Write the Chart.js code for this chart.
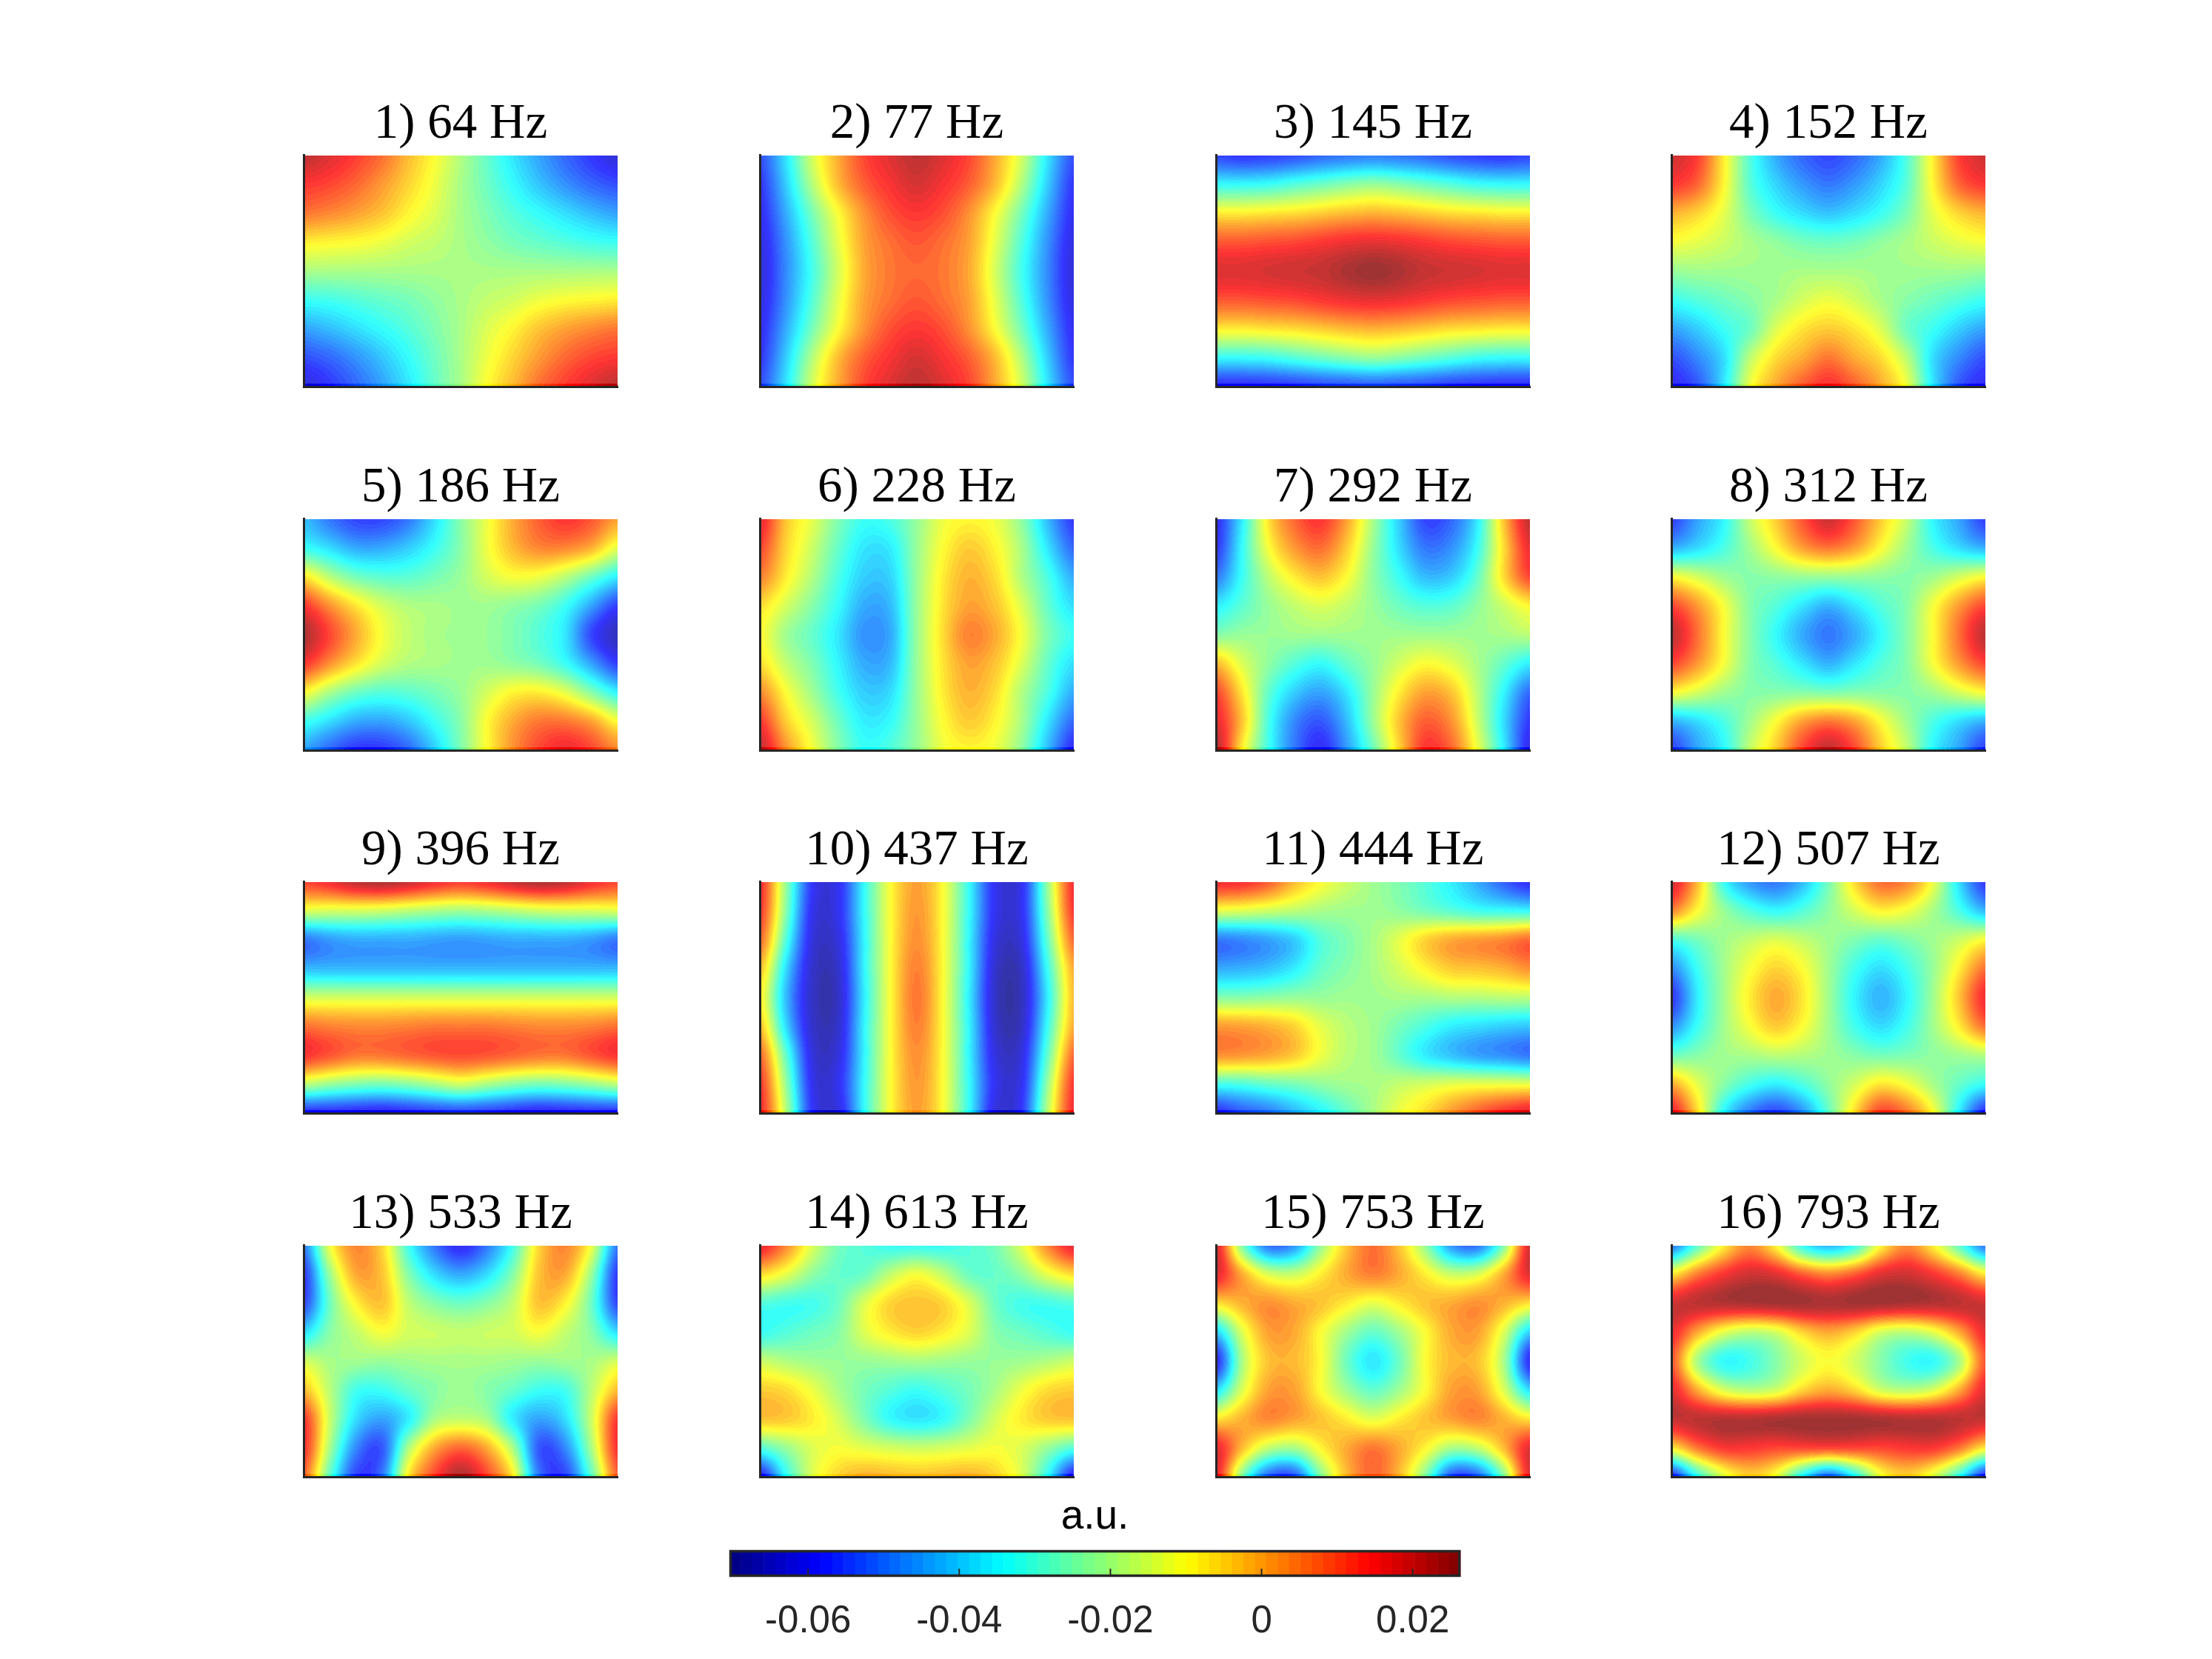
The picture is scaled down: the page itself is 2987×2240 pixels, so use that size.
<!DOCTYPE html>
<html>
<head>
<meta charset="utf-8">
<title>Mode shapes</title>
<script src="https://cdn.jsdelivr.net/npm/chart.js@4"></script>
<style>
  body { margin: 0; background: #fff; width: 2987px; height: 2240px; position: relative; overflow: hidden; }
  canvas { position: absolute; }
</style>
</head>
<body>
<script>
const frequencies = [64, 77, 145, 152, 186, 228, 292, 312, 396, 437, 444, 507, 533, 613, 753, 793];
const colorbarTicks = [-0.06, -0.04, -0.02, 0, 0.02];
const colorbarLabels = ['-0.06', '-0.04', '-0.02', '0', '0.02'];
const colorMin = -0.0704;
const colorMax = 0.0263;
const colorLevels = 64;

// Values on a 13 x 9 sample grid, in thousandths of a.u., top row first
const mode1 = [
  [22,18,13,7,-2,-10,-19,-28,-37,-45,-52,-58,-63],
  [14,12,8,2,-5,-12,-20,-27,-34,-41,-47,-52,-55],
  [6,4,1,-3,-9,-14,-20,-25,-30,-34,-38,-42,-45],
  [-8,-9,-10,-12,-15,-17,-20,-23,-26,-28,-30,-32,-33],
  [-20,-20,-20,-20,-20,-20,-20,-20,-20,-20,-20,-20,-20],
  [-33,-32,-30,-28,-26,-23,-20,-17,-15,-12,-10,-9,-8],
  [-45,-42,-38,-34,-30,-25,-20,-14,-9,-3,1,4,6],
  [-55,-52,-47,-41,-34,-27,-20,-12,-5,2,8,12,14],
  [-63,-58,-52,-45,-37,-28,-20,-10,-2,7,13,18,22]];
const mode2 = [
  [-55,-37,-15,0,12,18,22,18,12,0,-15,-37,-55],
  [-58,-40,-19,-2,9,15,19,15,9,-2,-19,-40,-58],
  [-60,-44,-26,-10,3,11,14,11,3,-10,-26,-44,-60],
  [-62,-47,-30,-13,1,7,10,7,1,-13,-30,-47,-62],
  [-63,-48,-32,-15,0,6,8,6,0,-15,-32,-48,-63],
  [-62,-47,-30,-13,1,7,10,7,1,-13,-30,-47,-62],
  [-60,-44,-26,-10,3,11,14,11,3,-10,-26,-44,-60],
  [-58,-40,-19,-2,9,15,19,15,9,-2,-19,-40,-58],
  [-55,-37,-15,0,12,18,22,18,12,0,-15,-37,-55]];
const mode3 = [
  [-56,-58,-57,-55,-52,-50,-49,-50,-52,-55,-57,-58,-56],
  [-34,-34,-33,-30,-27,-24,-22,-24,-27,-30,-33,-34,-34],
  [-8,-8,-7,-6,-4,-2,-1,-2,-4,-6,-7,-8,-8],
  [10,10,11,12,14,16,17,16,14,12,11,10,10],
  [18,18,19,20,21,24,26,24,21,20,19,18,18],
  [10,10,11,12,14,16,17,16,14,12,11,10,10],
  [-8,-8,-7,-6,-4,-2,-1,-2,-4,-6,-7,-8,-8],
  [-34,-34,-33,-30,-27,-24,-22,-24,-27,-30,-33,-34,-34],
  [-60,-60,-59,-58,-56,-55,-54,-55,-56,-58,-59,-60,-60]];
const mode4 = [
  [20,13,-8,-30,-44,-52,-56,-52,-44,-30,-8,13,20],
  [14,8,-9,-29,-39,-46,-50,-46,-39,-29,-9,8,14],
  [-1,-5,-13,-25,-33,-38,-41,-38,-33,-25,-13,-5,-1],
  [-11,-13,-16,-20,-23,-26,-27,-26,-23,-20,-16,-13,-11],
  [-22,-21,-21,-21,-21,-20,-20,-20,-21,-21,-21,-21,-22],
  [-33,-30,-27,-24,-20,-15,-12,-15,-20,-24,-27,-30,-33],
  [-45,-40,-33,-27,-14,-7,-4,-7,-14,-27,-33,-40,-45],
  [-55,-48,-38,-18,-6,0,6,0,-6,-18,-38,-48,-55],
  [-60,-54,-37,-12,0,9,15,9,0,-12,-37,-54,-60]];
const mode5 = [
  [-42,-50,-56,-56,-50,-38,-24,-12,0,9,14,10,1],
  [-33,-38,-44,-44,-40,-33,-24,-12,-2,4,4,-1,-13],
  [-7,-18,-26,-29,-29,-26,-22,-15,-11,-12,-18,-27,-36],
  [14,3,-7,-15,-19,-20,-21,-21,-23,-26,-33,-45,-57],
  [24,12,0,-11,-17,-20,-21,-22,-25,-30,-37,-56,-66],
  [14,3,-7,-15,-19,-20,-21,-21,-23,-26,-33,-45,-57],
  [-10,-20,-27,-30,-29,-26,-22,-15,-9,-8,-13,-24,-35],
  [-32,-38,-44,-45,-41,-33,-24,-10,0,6,6,1,-10],
  [-45,-52,-58,-58,-52,-40,-25,-10,3,12,17,12,4]];
const mode6 = [
  [18,-3,-13,-25,-33,-31,-22,-12,-9,-12,-23,-42,-58],
  [12,-5,-16,-28,-37,-36,-22,-10,-4,-9,-20,-37,-52],
  [5,-8,-19,-31,-40,-39,-22,-8,-1,-6,-19,-31,-44],
  [-6,-15,-24,-34,-44,-42,-22,-7,1,-3,-14,-28,-38],
  [-10,-21,-28,-37,-47,-44,-22,-6,5,0,-11,-25,-33],
  [-6,-17,-25,-35,-44,-42,-22,-7,1,-3,-14,-28,-38],
  [4,-10,-21,-32,-40,-38,-22,-8,-1,-6,-19,-31,-44],
  [14,-4,-15,-27,-36,-34,-22,-10,-4,-9,-20,-37,-52],
  [22,3,-11,-24,-33,-30,-22,-12,-9,-12,-23,-42,-60]];
const mode7 = [
  [-60,-36,-7,8,14,1,-20,-40,-56,-52,-36,-3,22],
  [-58,-34,-11,2,7,-4,-22,-38,-50,-47,-33,-6,17],
  [-50,-33,-18,-8,-3,-10,-23,-33,-42,-40,-28,-6,12],
  [-36,-29,-22,-17,-14,-17,-22,-27,-30,-29,-23,-16,-9],
  [-24,-22,-22,-21,-21,-21,-21,-21,-21,-21,-21,-20,-18],
  [-2,-14,-23,-30,-34,-28,-22,-15,-10,-13,-20,-28,-36],
  [12,-7,-28,-40,-45,-37,-22,-8,1,-3,-18,-35,-52],
  [18,-3,-31,-48,-54,-42,-22,-3,9,3,-16,-38,-58],
  [24,-8,-32,-50,-60,-46,-27,-5,14,8,-12,-36,-62]];
const mode8 = [
  [-57,-45,-35,-17,-4,10,20,10,-4,-17,-35,-45,-57],
  [-43,-38,-31,-21,-10,1,6,1,-10,-21,-31,-38,-43],
  [-10,-15,-21,-24,-23,-22,-22,-22,-23,-24,-21,-15,-10],
  [12,2,-11,-24,-30,-37,-43,-37,-30,-24,-11,2,12],
  [22,7,-10,-24,-34,-44,-50,-44,-34,-24,-10,7,22],
  [12,2,-11,-24,-30,-37,-43,-37,-30,-24,-11,2,12],
  [-10,-15,-21,-24,-24,-24,-25,-24,-24,-24,-21,-15,-10],
  [-43,-38,-31,-21,-10,1,6,1,-10,-21,-31,-38,-43],
  [-57,-45,-35,-17,-4,12,22,12,-4,-17,-35,-45,-57]];
const mode9 = [
  [12,16,22,24,21,16,13,16,21,24,22,16,12],
  [-14,-15,-15,-16,-18,-20,-21,-20,-18,-16,-15,-15,-14],
  [-50,-46,-44,-44,-44,-45,-46,-45,-44,-44,-44,-46,-50],
  [-42,-42,-42,-42,-42,-42,-42,-42,-42,-42,-42,-42,-42],
  [-15,-15,-15,-15,-15,-15,-15,-15,-15,-15,-15,-15,-15],
  [7,5,4,4,5,6,6,6,5,4,4,5,7],
  [14,10,6,6,8,10,11,10,8,6,6,10,14],
  [-18,-22,-25,-26,-24,-20,-16,-20,-24,-26,-25,-22,-18],
  [-60,-60,-61,-62,-60,-58,-57,-58,-60,-62,-61,-60,-60]];
const mode10 = [
  [16,-22,-58,-60,-34,-10,1,-10,-34,-60,-60,-22,16],
  [14,-24,-60,-60,-34,-10,2,-10,-34,-60,-60,-24,14],
  [8,-30,-62,-62,-35,-10,3,-10,-35,-62,-62,-28,8],
  [-2,-38,-64,-64,-35,-10,5,-10,-35,-64,-65,-33,0],
  [-8,-42,-65,-65,-36,-10,6,-10,-36,-65,-66,-36,-2],
  [-2,-38,-64,-64,-35,-10,5,-10,-35,-64,-65,-33,0],
  [8,-28,-62,-62,-35,-10,3,-10,-35,-62,-62,-28,8],
  [14,-22,-60,-60,-34,-10,2,-10,-34,-60,-60,-22,14],
  [16,-18,-58,-62,-34,-10,1,-10,-34,-62,-58,-18,16]];
const mode11 = [
  [16,15,9,-2,-10,-16,-21,-25,-30,-36,-44,-53,-60],
  [-13,-14,-16,-18,-20,-21,-21,-23,-26,-29,-32,-33,-34],
  [-50,-48,-45,-40,-30,-25,-20,-13,-5,0,2,4,8],
  [-44,-43,-41,-36,-28,-24,-20,-15,-9,-4,-3,-1,3],
  [-24,-24,-23,-22,-22,-21,-21,-20,-20,-19,-19,-18,-18],
  [2,1,-1,-5,-13,-18,-21,-26,-31,-36,-38,-40,-41],
  [3,2,0,-4,-12,-18,-21,-28,-36,-41,-45,-47,-50],
  [-32,-31,-28,-26,-23,-21,-20,-17,-15,-13,-12,-12,-12],
  [-60,-54,-50,-43,-36,-28,-20,-12,-6,2,9,15,19]];
const mode12 = [
  [20,-2,-33,-46,-50,-42,-26,-6,7,4,-12,-38,-58],
  [4,-10,-22,-30,-34,-30,-23,-15,-9,-12,-20,-31,-42],
  [-31,-26,-21,-17,-14,-17,-21,-25,-28,-25,-21,-16,-10],
  [-48,-33,-21,-11,-5,-10,-21,-32,-38,-32,-22,-8,7],
  [-58,-36,-21,-8,0,-7,-21,-35,-43,-35,-21,-3,16],
  [-47,-33,-21,-11,-4,-10,-21,-32,-38,-32,-21,-8,7],
  [-27,-24,-21,-20,-18,-19,-21,-24,-26,-25,-23,-21,-19],
  [0,-13,-24,-32,-36,-31,-23,-15,-7,-11,-20,-28,-34],
  [18,-6,-35,-50,-56,-47,-28,-6,12,6,-10,-36,-60]];
const mode13 = [
  [-50,-12,4,-5,-32,-50,-60,-50,-32,-5,4,-12,-50],
  [-58,-22,0,-3,-24,-38,-44,-38,-24,-3,0,-22,-58],
  [-56,-27,-9,-3,-17,-24,-27,-24,-17,-3,-9,-27,-56],
  [-38,-24,-17,-11,-15,-16,-17,-16,-15,-11,-17,-24,-38],
  [-15,-20,-21,-22,-21,-20,-20,-20,-21,-22,-21,-20,-15],
  [-2,-18,-32,-33,-28,-24,-21,-24,-28,-33,-32,-18,-2],
  [14,-16,-38,-45,-36,-20,-17,-20,-36,-45,-38,-16,14],
  [15,-20,-48,-54,-20,0,8,0,-20,-54,-48,-20,15],
  [8,-28,-56,-50,-8,12,24,12,-8,-50,-56,-28,8]];
const mode14 = [
  [18,4,-14,-26,-30,-33,-33,-33,-30,-26,-14,4,18],
  [-6,-13,-23,-28,-27,-17,-11,-17,-27,-28,-23,-13,-6],
  [-30,-32,-32,-27,-14,-5,-3,-5,-14,-27,-32,-32,-30],
  [-33,-30,-27,-24,-14,-8,-5,-8,-14,-24,-27,-30,-33],
  [-16,-19,-21,-22,-22,-21,-20,-21,-22,-22,-21,-19,-16],
  [-4,-6,-12,-20,-26,-30,-33,-30,-26,-20,-12,-6,-4],
  [-3,-4,-8,-15,-25,-34,-37,-34,-25,-15,-8,-4,-3],
  [-30,-22,-14,-11,-13,-15,-16,-15,-13,-11,-14,-22,-30],
  [-62,-34,-14,-5,-1,-2,-3,-2,-1,-5,-14,-34,-62]];
const mode15 = [
  [20,-24,-50,-46,-22,-3,7,-3,-22,-46,-50,-24,20],
  [18,0,-14,-16,-8,0,5,0,-8,-16,-14,0,18],
  [-7,-1,3,0,-3,-8,-13,-8,-3,0,3,-1,-7],
  [-40,-14,1,0,-10,-21,-28,-21,-10,0,1,-14,-40],
  [-60,-20,-3,-2,-10,-27,-37,-27,-10,-2,-3,-20,-60],
  [-38,-14,1,1,-10,-21,-28,-21,-10,1,1,-14,-38],
  [-7,-1,4,1,-3,-8,-13,-8,-3,1,4,-1,-7],
  [18,-2,-17,-20,-9,0,6,0,-9,-20,-17,-2,18],
  [18,-24,-52,-54,-24,-2,8,-2,-24,-54,-52,-24,18]];
const mode16 = [
  [-50,-28,-8,4,-9,-33,-42,-33,-9,4,-8,-28,-50],
  [-7,6,15,20,18,10,5,10,18,20,15,6,-7],
  [20,22,23,24,25,25,24,25,25,24,23,22,20],
  [17,0,-13,-18,-15,-5,0,-5,-15,-18,-13,0,17],
  [10,-20,-34,-32,-24,-15,-10,-15,-24,-32,-34,-20,10],
  [18,0,-14,-18,-15,-5,0,-5,-15,-18,-14,0,18],
  [21,22,23,23,24,25,25,25,24,23,23,22,21],
  [-8,6,14,14,12,12,12,12,12,14,14,6,-8],
  [-60,-33,-14,-5,-12,-35,-52,-35,-12,-5,-14,-33,-60]];

const modes = [mode1, mode2, mode3, mode4, mode5, mode6, mode7, mode8,
               mode9, mode10, mode11, mode12, mode13, mode14, mode15, mode16];

const PANEL_W = 424, PANEL_H = 312;
const panelLefts = [410, 1026, 1642, 2257];
const panelTops = [210, 701, 1191, 1682];
const PANEL_ALPHA = 0.8;   // the surfaces are slightly see-through, only the bottom edge is solid

function clamp01(v) { return Math.max(0, Math.min(1, v)); }

// jet colormap, quantised to the same 64 steps as the colorbar
function jet(value) {
  const level = Math.max(0, Math.min(colorLevels - 1,
    Math.floor((value - colorMin) / (colorMax - colorMin) * colorLevels)));
  const t = (level + 0.5) / colorLevels;
  return [
    255 * clamp01(Math.min(4 * t - 1.5, -4 * t + 4.5)),
    255 * clamp01(Math.min(4 * t - 0.5, -4 * t + 3.5)),
    255 * clamp01(Math.min(4 * t + 0.5, -4 * t + 2.5))
  ];
}

function catmull(a, b, c, d, t) {
  return b + 0.5 * t * (c - a + t * (2 * a - 5 * b + 4 * c - d + t * (3 * (b - c) + d - a)));
}

// smooth shading between the grid samples, like the interpolated surface in the original
function sampleMode(grid, gx, gy) {
  const rows = grid.length, cols = grid[0].length;
  const ix = Math.max(0, Math.min(cols - 2, Math.floor(gx)));
  const iy = Math.max(0, Math.min(rows - 2, Math.floor(gy)));
  const fx = gx - ix, fy = gy - iy;
  const line = [];
  for (let j = -1; j <= 2; j++) {
    const r = grid[Math.max(0, Math.min(rows - 1, iy + j))];
    line.push(catmull(r[Math.max(0, ix - 1)], r[ix], r[ix + 1], r[Math.min(cols - 1, ix + 2)], fx));
  }
  return catmull(line[0], line[1], line[2], line[3], fy);
}

const modeShading = {
  id: 'modeShading',
  beforeDatasetsDraw(chart) {
    const { ctx, chartArea, scales: { x, y } } = chart;
    const grid = chart.data.datasets[0].grid;
    const left = Math.round(chartArea.left), top = Math.round(chartArea.top);
    const w = Math.round(chartArea.width), h = Math.round(chartArea.height);
    const img = ctx.createImageData(w, h);
    for (let py = 0; py < h; py++) {
      const gy = y.getValueForPixel(top + py + 0.5);
      const alpha = py >= h - 4 ? 1 : PANEL_ALPHA;
      for (let px = 0; px < w; px++) {
        const gx = x.getValueForPixel(left + px + 0.5);
        const c = jet(sampleMode(grid, gx, gy) / 1000);
        const k = (py * w + px) * 4;
        img.data[k] = c[0] * alpha + 255 * (1 - alpha);
        img.data[k + 1] = c[1] * alpha + 255 * (1 - alpha);
        img.data[k + 2] = c[2] * alpha + 255 * (1 - alpha);
        img.data[k + 3] = 255;
      }
    }
    ctx.putImageData(img, left, top);
  }
};

function addCanvas(left, top, width, height) {
  const c = document.createElement('canvas');
  c.width = width;
  c.height = height;
  c.style.left = left + 'px';
  c.style.top = top + 'px';
  document.body.appendChild(c);
  return c;
}

const TITLE_SPACE = 83;
modes.forEach((grid, i) => {
  const left = panelLefts[i % 4], top = panelTops[Math.floor(i / 4)];
  const canvas = addCanvas(left - 20, top - TITLE_SPACE, PANEL_W + 40, TITLE_SPACE + PANEL_H + 10);
  const points = [];
  grid.forEach((row, r) => row.forEach((v, c) => points.push({ x: c, y: r, v: v })));
  new Chart(canvas, {
    type: 'scatter',
    data: { datasets: [{ data: points, grid: grid, pointRadius: 0 }] },
    options: {
      responsive: false,
      animation: false,
      devicePixelRatio: 1,
      layout: { padding: { left: 20, right: 20, top: 0, bottom: 10 } },
      plugins: {
        legend: { display: false },
        tooltip: { enabled: false },
        title: {
          display: true,
          text: (i + 1) + ') ' + frequencies[i] + ' Hz',
          color: '#000',
          font: { family: '"Liberation Serif"', size: 67, weight: 'normal', lineHeight: 1.2 },
          padding: { top: 1.6, bottom: 1 }
        }
      },
      scales: {
        x: {
          type: 'linear', min: 0, max: grid[0].length - 1,
          grid: { display: false, drawTicks: false },
          ticks: { display: false },
          border: { display: true, color: '#262626', width: 3, z: 1 }
        },
        y: {
          type: 'linear', min: 0, max: grid.length - 1, reverse: true,
          grid: { display: false, drawTicks: false },
          ticks: { display: false },
          border: { display: true, color: '#262626', width: 3, z: 1 }
        }
      }
    },
    plugins: [modeShading]
  });
});

// colorbar
const colorbarFrame = {
  id: 'colorbarFrame',
  beforeDatasetsDraw(chart) {
    const { ctx, chartArea: a, scales: { x } } = chart;
    const step = (colorMax - colorMin) / colorLevels;
    for (let i = 0; i < colorLevels; i++) {
      const v0 = colorMin + i * step;
      const p0 = x.getPixelForValue(v0), p1 = x.getPixelForValue(v0 + step);
      const c = jet(v0 + step / 2);
      ctx.fillStyle = 'rgb(' + c.map(Math.round).join(',') + ')';
      ctx.fillRect(p0, a.top, p1 - p0 + 0.5, a.height);
    }
  },
  afterDatasetsDraw(chart) {
    const { ctx, chartArea: a, scales: { x } } = chart;
    ctx.save();
    ctx.strokeStyle = '#262626';
    ctx.lineWidth = 3.5;
    ctx.strokeRect(a.left + 1.5, a.top + 1.5, a.width - 3, a.height - 3);
    ctx.lineWidth = 2;
    colorbarTicks.forEach(v => {
      const p = x.getPixelForValue(v);
      ctx.beginPath();
      ctx.moveTo(p, a.bottom - 2);
      ctx.lineTo(p, a.bottom - 11);
      ctx.stroke();
    });
    ctx.restore();
  }
};

new Chart(addCanvas(885, 2016, 1187, 217), {
  type: 'scatter',
  data: { datasets: [{ data: [], pointRadius: 0 }] },
  options: {
    responsive: false,
    animation: false,
    devicePixelRatio: 1,
    layout: { padding: { left: 100, right: 100, top: 0, bottom: 0 } },
    plugins: {
      legend: { display: false },
      tooltip: { enabled: false },
      title: {
        display: true,
        text: 'a.u.',
        color: '#000',
        font: { family: '"Liberation Sans"', size: 55, weight: 'normal', lineHeight: 1.2 },
        padding: { top: 0, bottom: 11 }
      }
    },
    scales: {
      x: {
        type: 'linear', min: colorMin, max: colorMax,
        afterBuildTicks: s => { s.ticks = colorbarTicks.map(v => ({ value: v })); },
        afterFit: s => { s.height = 104; },
        grid: { display: false, drawTicks: false },
        border: { display: false },
        ticks: {
          autoSkip: false, maxRotation: 0, padding: 30, color: '#262626',
          font: { family: '"Liberation Sans"', size: 51 },
          callback: (v, i) => colorbarLabels[i]
        }
      },
      y: { display: false, min: 0, max: 1 }
    }
  },
  plugins: [colorbarFrame]
});
</script>
</body>
</html>
